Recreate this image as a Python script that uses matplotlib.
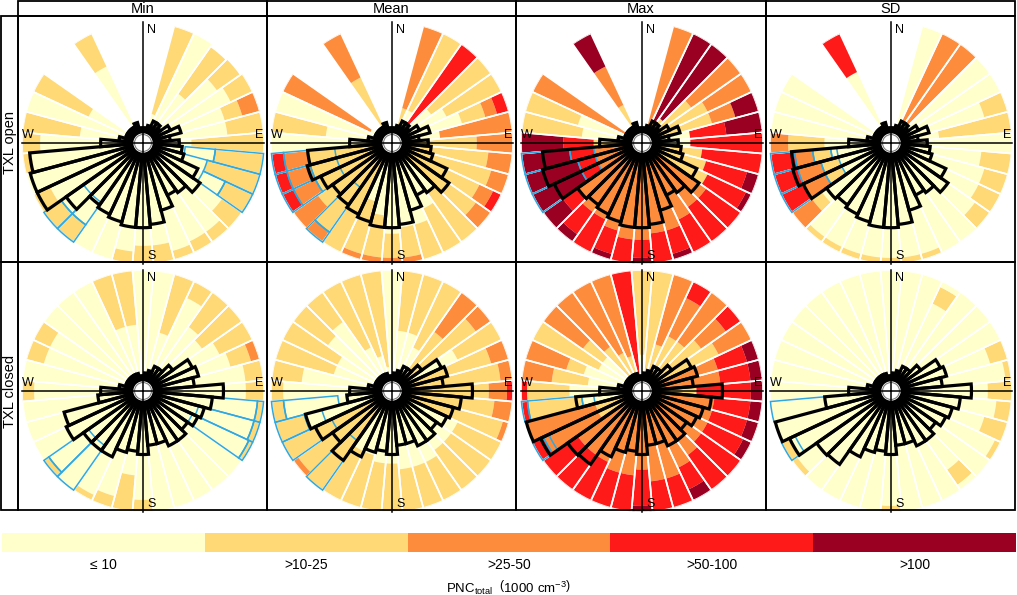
import numpy as np
import matplotlib
matplotlib.use('Agg')
import matplotlib.pyplot as plt
from matplotlib.patches import Rectangle, Circle

plt.rcParams['font.family'] = ['Liberation Sans', 'DejaVu Sans']
plt.rcParams['mathtext.fontset'] = 'custom'
plt.rcParams['mathtext.rm'] = 'Liberation Sans'

W, H = 1017, 595

# ---------------- data ----------------
directions = list(range(0, 360, 10))          # sector centres (deg, clockwise from N)
stats = ['Min', 'Mean', 'Max', 'SD']
periods = ['TXL open', 'TXL closed']
class_labels = ['\u2264 10', '>10-25', '>25-50', '>50-100', '>100']
class_colors = ['#FFFFCC', '#FED976', '#FD8D3C', '#FF1A1A', '#990021']

# per sector: "class:outer radius" runs (radius in 1/20 of full radius)
min_open_bins = ["", "", "0:5 1:20", "0:20", "0:10 1:19.5", "0:15 1:19.7", "0:16 1:20",
                 "0:14 1:17 2:20", "0:14 1:20", "0:8 1:20", "0:12 1:20", "0:11 1:20",
                 "0:15 1:20", "0:16 1:20", "0:18 1:20", "0:18 1:20", "0:18.5 1:20",
                 "0:17 1:20", "0:17 1:20", "0:18 1:20", "0:20", "0:20", "0:16.5 1:20",
                 "0:16.5 1:20", "0:17 1:20", "0:20", "0:18.5 1:20", "0:17 1:20",
                 "0:10.5 1:20", "0:20", "0:10 1:20", "", "", "0:14 1:20", "", ""]
mean_open_bins = ["", "", "1:6 2:20", "0:6 1:20", "1:4 3:20", "0:8 1:20", "0:10 1:20",
                  "0:12 1:16 2:18 3:20", "0:8 2:20", "1:14 2:20", "1:16 2:20", "1:17 2:20",
                  "1:16 2:18.5 3:20", "1:17 2:20", "0:10 1:20", "0:12 1:20", "0:14 1:20",
                  "0:14 1:19 2:20", "0:15 1:19 2:20", "0:12 1:19 2:20", "0:10 1:19 2:20",
                  "1:20", "1:18 2:20", "1:15 2:20", "1:14 2:18 3:20", "1:14 2:18 3:20",
                  "1:14 2:18 3:20", "0:20", "0:11 1:20", "0:20", "0:4 2:20", "", "",
                  "1:12 2:20", "", ""]
max_open_bins = ["", "", "2:20", "1:4 4:20", "1:5 4:20", "1:10 2:20", "1:12 2:20",
                 "1:12 2:16 4:20", "0:8 3:14 4:20", "0:8 3:20", "1:10 3:20", "1:11 3:18 4:20",
                 "1:12 3:19 4:20", "2:13 3:20", "2:13 3:20", "2:14 3:20", "2:15 3:19 4:20",
                 "2:15 3:20", "2:16 3:19 4:20", "2:16 3:20", "2:15 3:19 4:20", "2:14 3:20",
                 "2:14 3:18.5 4:20", "2:13 3:16 4:20", "2:8 3:11 4:20", "2:8 3:11 4:20",
                 "2:8 3:12 4:20", "1:8 3:13 4:20", "0:10 1:20", "0:11 1:20", "2:20", "", "",
                 "1:7 2:14 4:20", "", ""]
sd_open_bins = ["", "", "0:20", "0:4 2:20", "0:4 2:20", "0:20", "0:20", "0:16 1:20",
                "0:8 1:20", "0:20", "0:15 1:20", "0:16 1:20", "0:16 1:20", "0:17 1:20",
                "0:20", "0:20", "0:19 1:20", "0:19 1:20", "0:19 1:20", "0:19 1:20",
                "0:19 1:20", "0:19 1:20", "0:19 1:20", "0:14 1:16 2:20",
                "0:9 1:12 2:16 3:20", "0:9 1:12 2:16 3:20", "0:10 1:13 2:16 3:20",
                "0:11 1:17 2:20", "0:20", "0:20", "0:20", "", "", "0:13 3:20", "", ""]
min_closed_bins = ["0:20", "0:20", "0:10 1:20", "0:17 1:20", "0:13 1:20", "0:12 1:20",
                   "0:14 1:20", "0:15 1:18.5 2:20", "0:17 1:20", "0:17 1:20", "0:19 1:20",
                   "0:19 1:20", "0:19.3 1:20", "0:20", "0:20", "0:20", "0:20", "0:20",
                   "0:18 1:20", "0:14 1:20", "0:18 1:20", "0:19 1:20", "0:20", "0:19 1:20",
                   "0:20", "0:20", "0:20", "0:18 1:20", "0:20", "0:17 1:20", "0:17 1:20",
                   "0:20", "0:20", "0:20", "0:11 1:20", "0:11 1:20"]
mean_closed_bins = ["0:20", "0:10 1:20", "0:10 1:20", "0:8 1:20", "1:12 2:20", "1:17 2:20",
                    "0:12 1:20", "1:17 2:20", "1:18 2:20", "1:16 2:19 3:20", "1:17 2:20",
                    "1:19 2:20", "0:12 1:20", "0:12 1:20", "0:12 1:20", "0:13 1:20",
                    "0:13 1:20", "0:13 1:20", "0:12 1:20", "0:12 1:20", "0:11 1:20",
                    "0:11 1:20", "1:20", "1:19 2:20", "1:20", "0:15 1:20", "0:18 1:20",
                    "0:18 1:20", "0:15 1:20", "0:10 1:20", "0:10 1:20", "0:13 1:20",
                    "0:14 1:20", "0:8 1:20", "0:6 1:20", "0:4 1:20"]
max_closed_bins = ["0:6 1:20", "1:20", "1:8 2:20", "1:10 2:17 3:20", "1:10 2:20",
                   "1:12 2:17 3:20", "1:14 2:20", "2:13 3:18 4:20", "2:13 3:18 4:20",
                   "1:9 3:18 4:20", "2:12 3:18 4:20", "2:12 3:18 4:20", "2:12 3:18.5 4:20",
                   "2:12 3:20", "2:13 3:20", "2:14 3:18 4:20", "2:15 3:20", "2:15 3:20",
                   "2:13 3:19 4:20", "2:14 3:20", "2:14 3:20", "2:13 3:20", "2:13 3:20",
                   "2:13 3:20", "1:8 2:18 3:20", "1:8 2:20", "0:10 1:19 3:20",
                   "0:12 1:19 3:20", "0:9 1:15 2:20", "0:10 1:13 2:20", "0:8 1:20",
                   "0:8 1:12 2:20", "1:9 2:20", "1:7 2:20", "1:6 2:20", "3:20"]
sd_closed_bins = ["0:20", "0:20", "0:20", "0:16 1:19 0:20", "0:20", "0:20", "0:20",
                  "0:17 1:20", "0:19 1:20", "0:16 1:20", "0:17.5 1:20", "0:16 1:20",
                  "0:19 1:20", "0:20", "0:16 1:19 0:20", "0:20", "0:20", "0:20",
                  "0:19 1:20", "0:20", "0:20", "0:20", "0:20", "0:19 1:20", "0:18.5 1:20",
                  "0:20", "0:20", "0:20", "0:20", "0:20", "0:20", "0:20", "0:20", "0:20",
                  "0:20", "0:20"]

# frequency (black) bars: outer radius per sector
min_open_freq = [2.5, 2.5, 3, 4, 4, 3.5, 5, 6.5, 4.5, 6, 6.5, 7, 10, 11.5, 10, 9.5, 11.5, 13.5,
                 14, 14, 13.5, 13, 12.5, 15.5, 19.3, 19.3, 18.8, 7, 4, 3, 3, 3, 3, 3, 3.5, 2.5]
mean_open_freq = [2.5, 2.5, 3, 4, 4, 3.5, 5, 6.5, 4.5, 6, 6.5, 7, 10, 11.5, 10, 9.5, 11.5, 13.5,
                  14, 14, 13.5, 13, 12.5, 12, 13, 14.5, 14, 7, 4, 3, 3, 3, 3, 3, 3.5, 2.5]
max_open_freq = [2.5, 2.5, 3, 4, 4, 3.5, 5, 6.5, 4.5, 6, 6.5, 7, 10, 11.5, 10, 9.5, 11.5, 13.5,
                 14, 14, 13.5, 13, 12.5, 13, 16, 17, 16.5, 7, 4, 3, 3, 3, 3, 3, 3.5, 2.5]
sd_open_freq = [2.5, 2.5, 3, 4, 4, 3.5, 5, 6.5, 4.5, 6, 6.5, 7, 10, 11.5, 10, 9.5, 11.5, 13.5,
                14, 14, 13.5, 13, 12.5, 13, 16, 16.8, 16.5, 7, 4, 3, 3, 3, 3, 3, 3.5, 2.5]
min_closed_freq = [2.5, 3, 3.5, 4.5, 4.5, 6, 9, 9.5, 8.5, 13.3, 11.5, 10.5, 10, 9, 10, 10, 9, 9,
                   10.5, 10, 10.5, 12, 12, 12, 14, 13.5, 7.5, 7, 4, 3, 3, 3, 3, 3, 3, 2.5]
mean_closed_freq = [2.5, 3, 3.5, 4.5, 4.5, 6, 9, 9.5, 8.5, 13.3, 11.5, 10.5, 10, 9, 10, 10, 9, 9,
                    10.5, 10, 10.5, 12, 14, 12, 14, 14.8, 7.5, 7, 4, 3, 3, 3, 3, 3, 3, 2.5]
max_closed_freq = [2.5, 3, 3.5, 4.5, 4.5, 6, 9, 9.5, 8.5, 13.3, 11.5, 10.5, 10, 9, 10, 10, 9, 9,
                   10.5, 10, 10.5, 12, 14.8, 15, 18.5, 19.8, 11, 7, 4, 3, 3, 3, 3, 3, 3, 2.5]
sd_closed_freq = [2.5, 3, 3.5, 4.5, 4.5, 6, 9, 9.5, 8.5, 13.3, 11.5, 10.5, 10, 9, 10, 10, 9, 9,
                  10.5, 10, 10.5, 12, 14.8, 15, 18.5, 19.8, 11, 7, 4, 3, 3, 3, 3, 3, 3, 2.5]

# highlighted (blue) sectors: (direction, inner radius, outer radius)
min_open_blue = [(100, 7, 20), (110, 11, 20), (120, 11, 20), (220, 12, 20), (230, 12, 20)]
mean_open_blue = [(220, 9, 20), (240, 9.5, 20), (250, 9.5, 20), (260, 9.5, 20)]
max_open_blue = [(240, 8, 20), (250, 8, 20), (260, 8, 20)]
sd_open_blue = [(240, 9, 20), (250, 9, 20), (260, 9, 20)]
min_closed_blue = [(100, 11.5, 20), (110, 9.5, 20), (120, 9, 20), (220, 11, 20), (230, 11, 20)]
mean_closed_blue = [(220, 10, 20), (240, 11, 20), (250, 12, 20), (260, 9, 20)]
max_closed_blue = [(240, 17, 20), (260, 8, 20)]
sd_closed_blue = [(240, 17.5, 20), (260, 11, 20)]

panels = {
    (0, 0): (min_open_bins, min_open_freq, min_open_blue),
    (0, 1): (mean_open_bins, mean_open_freq, mean_open_blue),
    (0, 2): (max_open_bins, max_open_freq, max_open_blue),
    (0, 3): (sd_open_bins, sd_open_freq, sd_open_blue),
    (1, 0): (min_closed_bins, min_closed_freq, min_closed_blue),
    (1, 1): (mean_closed_bins, mean_closed_freq, mean_closed_blue),
    (1, 2): (max_closed_bins, max_closed_freq, max_closed_blue),
    (1, 3): (sd_closed_bins, sd_closed_freq, sd_closed_blue),
}

RMAX = 20
HUB = 1.75
BLUE = '#2FA8E0'
NARROW = ['Liberation Sans Narrow', 'Liberation Sans', 'DejaVu Sans']


def parse(s):
    out = []
    for tok in s.split():
        c, r = tok.split(':')
        out.append((int(c), float(r)))
    return out


def px_rect(x0, y0, x1, y1):
    return [x0 / W, 1 - y1 / H, (x1 - x0) / W, (y1 - y0) / H]


fig = plt.figure(figsize=(W / 100, H / 100), dpi=100)

col_x = [18, 267, 516, 766, 1015]
row_y = [16, 262, 510]
cent_x = [143, 392, 642, 891]
cent_y = [143, 391]
R_PX = 121


def frame(x0, y0, x1, y1, lw=1.3):
    fig.add_artist(Rectangle((x0 / W, 1 - y1 / H), (x1 - x0) / W, (y1 - y0) / H,
                             transform=fig.transFigure, fill=False, ec='black', lw=lw))


for ci, st in enumerate(stats):
    frame(col_x[ci], 1, col_x[ci + 1], 16)
    fig.text((col_x[ci] + col_x[ci + 1]) / 2 / W, 1 - 9.0 / H, st,
             ha='center', va='center', fontsize=10.5)
for ri, per in enumerate(periods):
    frame(1, row_y[ri], 18, row_y[ri + 1])
    fig.text(10 / W, 1 - cent_y[ri] / H, per, rotation=90,
             ha='center', va='center', fontsize=10.5)
    for ci in range(4):
        frame(col_x[ci], row_y[ri], col_x[ci + 1], row_y[ri + 1])

wd = np.deg2rad(10)
for (ri, ci), (bins, freq, blue) in panels.items():
    cx, cy = cent_x[ci], cent_y[ri]
    ax = fig.add_axes(px_rect(cx - R_PX, cy - R_PX, cx + R_PX, cy + R_PX), projection='polar')
    ax.set_theta_zero_location('N')
    ax.set_theta_direction(-1)
    ax.set_ylim(0, RMAX)
    ax.set_facecolor('none')
    ax.set_axis_off()

    seg_table = {}
    for d, s in zip(directions, bins):
        if not s:
            continue
        th = np.deg2rad(d)
        r0 = 0.0
        segs = []
        for cat, r1 in parse(s):
            ax.bar(th, r1 - r0, width=wd, bottom=r0, color=class_colors[cat],
                   lw=0, zorder=1)
            segs.append((r0, r1))
            r0 = r1
        seg_table[d] = segs
        ax.bar(th, r0, width=wd, bottom=0, fill=False, ec='white', lw=1.2, zorder=2)

    for d, b0, b1 in blue:
        th = np.deg2rad(d)
        for r0, r1 in seg_table.get(d, []):
            a, b = max(r0, b0), min(r1, b1)
            if b - a > 0.05:
                ax.bar(th, b - a, width=wd, bottom=a, fill=False, ec=BLUE,
                       lw=1.1, zorder=3, clip_on=False)

    for d, f in zip(directions, freq):
        ax.bar(np.deg2rad(d), f - HUB, width=wd, bottom=HUB, fill=False, ec='black',
               lw=2.3, zorder=4, clip_on=False)

    ax.add_patch(Circle((0.5, 0.5), HUB / RMAX * 0.5, transform=ax.transAxes,
                        fc='white', ec='black', lw=1.3, zorder=6, clip_on=False))
    ax.add_patch(Circle((0.5, 0.5), (HUB - 0.35) / RMAX * 0.5, transform=ax.transAxes,
                        fc='none', ec='#7f7f7f', lw=0.8, zorder=6, clip_on=False))
    for t in (0, np.pi / 2, np.pi, 3 * np.pi / 2):
        ax.plot([t, t], [0, RMAX], color='black', lw=1.1, zorder=7, clip_on=False)

    sz = 2 * R_PX
    fs = 9
    ax.text(0.5 + 4 / sz, 0.5 + 113 / sz, 'N', transform=ax.transAxes, ha='left',
            va='center', fontsize=fs, zorder=8)
    ax.text(0.5 + 120 / sz, 0.5 + 8 / sz, 'E', transform=ax.transAxes, ha='right',
            va='center', fontsize=fs, zorder=8)
    ax.text(0.5 - 121 / sz, 0.5 + 8 / sz, 'W', transform=ax.transAxes, ha='left',
            va='center', fontsize=fs, zorder=8)
    ax.text(0.5 + 4 / sz, 0.5 - 113 / sz, 'S', transform=ax.transAxes, ha='left',
            va='center', fontsize=fs, zorder=8)

# colour key
cax = fig.add_axes(px_rect(2, 533, 1016, 552))
pos = np.arange(len(class_labels))
cax.bar(pos, np.ones(len(pos)), width=1, align='edge', color=class_colors, lw=0)
cax.set_xlim(0, len(pos))
cax.set_ylim(0, 1)
for sp in cax.spines.values():
    sp.set_visible(False)
cax.set_yticks([])
cax.set_xticks(pos + 0.5)
cax.set_xticklabels(class_labels, fontsize=10, family=NARROW)
cax.tick_params(axis='x', length=0, pad=4)
cax.set_xlabel(r'PNC$_{\mathrm{total}}$  $\left(1000\ \mathrm{cm}^{-3}\right)$',
               fontsize=9.5, labelpad=5, family=NARROW)

fig.savefig('out.png', dpi=100)
